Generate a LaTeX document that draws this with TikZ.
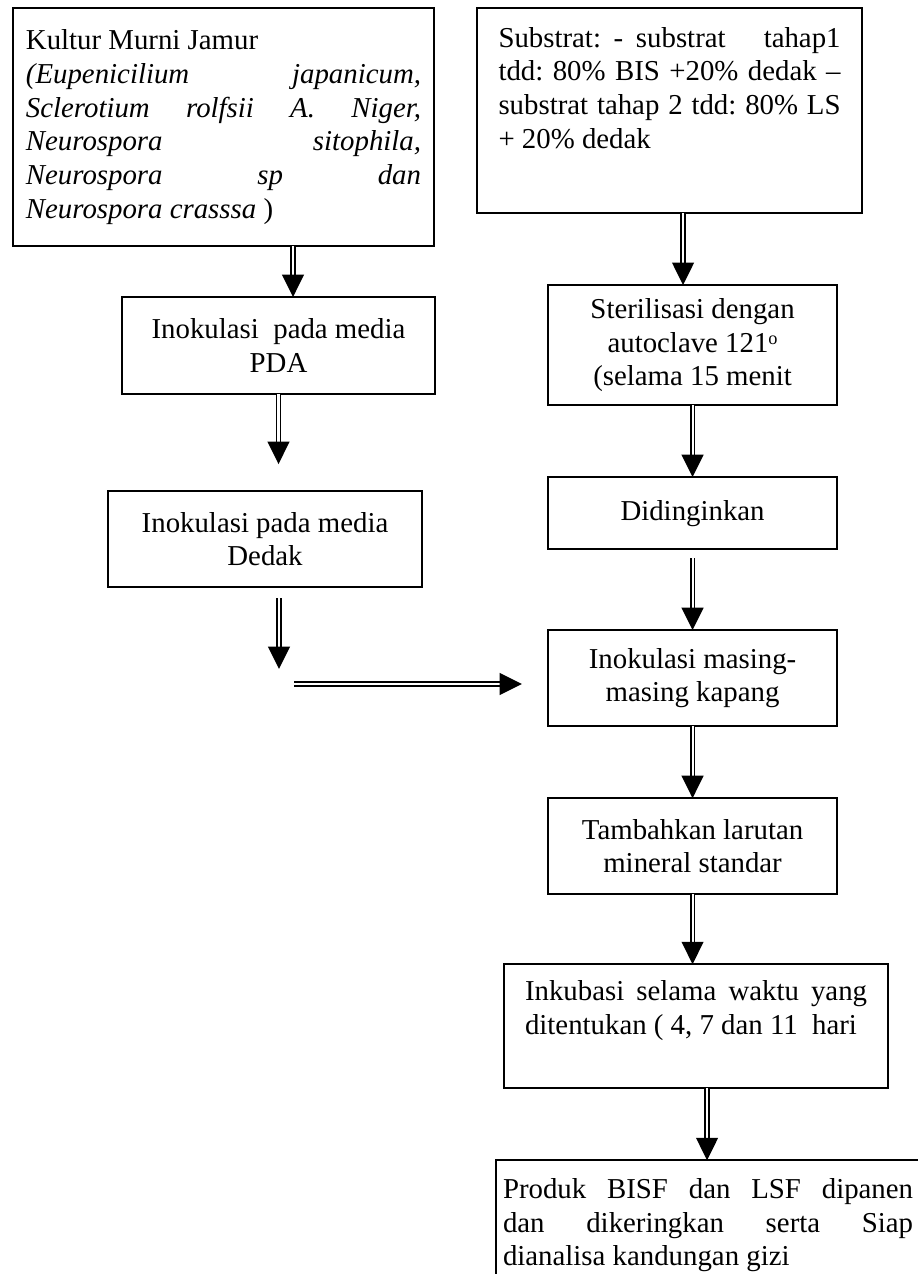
\documentclass[tikz,border=0pt]{standalone}
\usepackage{fontspec}
\setmainfont{Liberation Serif}
\usetikzlibrary{positioning, arrows.meta, calc}
\hyphenpenalty=10000
\tolerance=9999
\frenchspacing

\begin{document}
\begin{tikzpicture}[
  x=0.025cm, y=-0.025cm,
  font=\fontsize{20.5pt}{24pt}\selectfont,
  box/.style={draw, line width=1.3pt, align=center, inner sep=0pt, outer sep=0pt},
  jbox/.style={box, align=justify},
  dblarr/.style={double, double distance=1.5pt, line width=1.3pt, -{Triangle[length=16pt, width=15.5pt]}}
]
\useasboundingbox (0,0) rectangle (918,1274);
\clip (0,0) rectangle (918,1274);

% left column
\node[jbox, minimum width=10.525cm, minimum height=5.95cm, text width=9.875cm] (kultur) at (223.5,127)
  {Kultur Murni Jamur\newline\textit{(Eupenicilium japanicum,\linebreak Sclerotium rolfsii A. Niger,\linebreak Neurospora sitophila,\linebreak Neurospora sp dan\linebreak Neurospora crasssa} )};
\node[box, below=1.275cm of kultur, xshift=1.375cm, minimum width=7.825cm, minimum height=2.425cm] (pda) {Inokulasi\ \ pada media\\PDA};
\node[box, below=2.425cm of pda, xshift=-0.3375cm, minimum width=7.85cm, minimum height=2.4cm] (dedak) {Inokulasi pada media\\Dedak};

% right column
\node[jbox, anchor=north west, minimum width=9.625cm, text width=8.55cm, inner ysep=0.475cm, text depth=3.675cm] (sub) at (477,8)
  {Substrat: - substrat\ \ \ tahap1\linebreak tdd: 80\% BIS +20\% dedak --\linebreak substrat tahap 2 tdd: 80\% LS\linebreak + 20\% dedak};
\node[box, below=1.8cm of sub, xshift=0.575cm, minimum width=7.225cm, minimum height=3cm] (ster) {Sterilisasi dengan\\autoclave 121{\fontsize{13pt}{13pt}\selectfont\raisebox{0.9ex}{o}}\\(selama 15 menit};
\node[box, below=1.8cm of ster, minimum width=7.225cm, minimum height=1.8cm] (ding) {Didinginkan};
\node[box, below=2.025cm of ding, minimum width=7.225cm, minimum height=2.4cm] (masing) {Inokulasi masing-\\masing kapang};
\node[box, below=1.8cm of masing, minimum width=7.225cm, minimum height=2.4cm] (tamb) {Tambahkan larutan\\mineral standar};
\node[jbox, below=1.75cm of tamb, xshift=0.0875cm, minimum width=9.6cm, text width=8.55cm, inner ysep=0.4cm, text depth=1.8cm] (inku)
  {Inkubasi selama waktu yang\linebreak ditentukan ( 4, 7 dan 11\ \ hari};
\node[jbox, below=1.8cm of inku, xshift=0.3cm, inner xsep=0.175cm, inner ysep=0.45cm, text width=10.25cm, text depth=3cm] (prod)
  {Produk BISF dan LSF dipanen\linebreak dan dikeringkan serta Siap\linebreak dianalisa kandungan gizi};

% loose arrow ends
\coordinate[below=1.75cm of pda] (e1);
\coordinate (s2) at (279,598);
\coordinate (e2) at (279,669);
\coordinate (h1) at (294,684);
\coordinate (h2) at (522,684);
\coordinate[below=0.225cm of ding] (s3);

\draw[dblarr] ([xshift=1.7375cm]kultur.south) -- ([xshift=1.7375cm]kultur.south |- pda.north);
\draw[dblarr] (pda.south) -- (e1);
\draw[dblarr] (s2) -- (e2);
\draw[dblarr] (h1) -- (h2);
\draw[dblarr] ([xshift=0.3375cm]sub.south) -- ([xshift=0.3375cm]sub.south |- ster.north);
\draw[dblarr] (ster.south) -- (ding.north);
\draw[dblarr] (s3) -- (masing.north);
\draw[dblarr] (masing.south) -- (tamb.north);
\draw[dblarr] (tamb.south) -- (tamb.south |- inku.north);
\draw[dblarr] ([xshift=0.275cm]inku.south) -- ([xshift=0.275cm]inku.south |- prod.north);
\end{tikzpicture}
\end{document}
